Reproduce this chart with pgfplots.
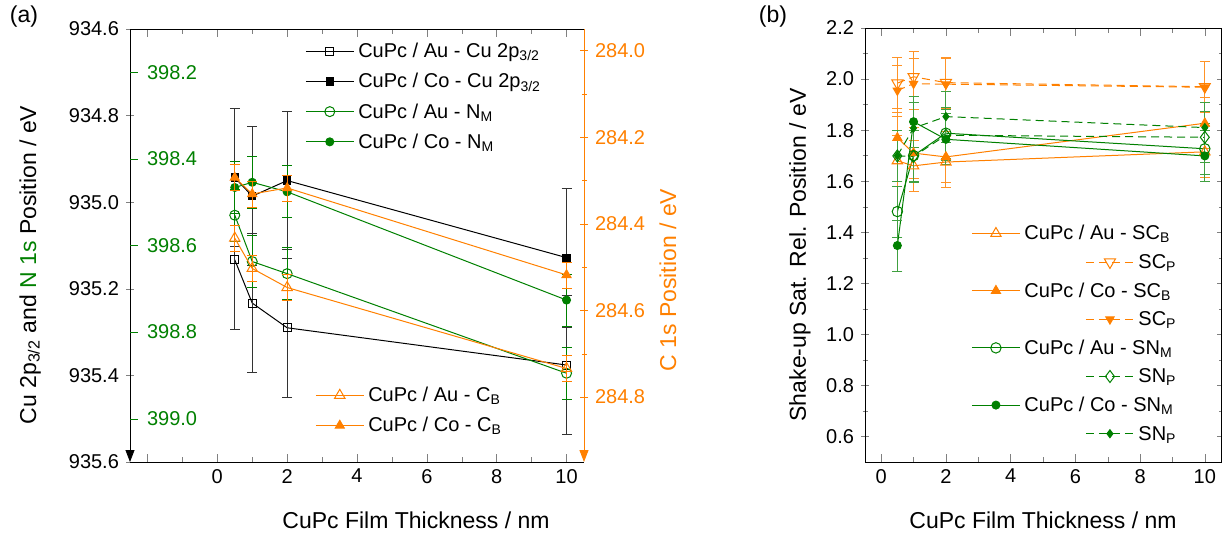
\documentclass[border=0pt]{standalone}
\usepackage{fontspec}
\setmainfont{Liberation Sans}
\usepackage{pgfplots}
\pgfplotsset{compat=1.18}
\usetikzlibrary{arrows.meta}
\definecolor{org}{RGB}{255,128,0}
\definecolor{grn}{RGB}{0,128,0}
\pgfplotsset{
  leg/.style={legend image code/.code={%
    \draw[mark repeat=2,mark phase=2,##1] plot coordinates {(0pt,0pt) (12pt,0pt) (24pt,0pt)};}},
  legsh/.style={legend image code/.code={%
    \draw[overlay,mark repeat=2,mark phase=2,##1] plot coordinates {(57pt,0pt) (69pt,0pt) (81pt,0pt)};}},
  baseL/.style={
    scale only axis, width=227pt, height=216.5pt, at={(65pt,-231pt)}, anchor=south west,
    xmin=-2.5, xmax=10.5, y dir=reverse, clip=false,
    tick label style={font=\fontsize{10}{12}\selectfont},
    label style={font=\fontsize{11.5}{13.8}\selectfont},
    /pgf/number format/assume math mode=true,
    major tick length=4pt, minor tick length=2.5pt,
    legend style={draw=none, fill=none, font=\fontsize{10}{12}\selectfont, row sep=1.6pt,
      cells={inner sep=1.5pt, text height=8pt, text depth=4.5pt}},
    legend cell align=left, leg,
  },
  dsh/.style={dash pattern=on 4pt off 2.5pt},
}
\begin{document}
\begin{tikzpicture}
% ---------- panel (a): Cu 2p (black) ----------
\begin{axis}[baseL,
  ymin=934.6, ymax=935.6,
  axis x line*=box, axis y line*=left,
  every outer y axis line/.append style={-{Triangle[length=6pt,width=4.5pt]}},
  xtick={-2,0,2,4,6,8,10}, xticklabels={,0,2,4,6,8,10}, minor x tick num=1,
  xtick align=inside, ytick align=center,
  ytick={934.6,934.8,935.0,935.2,935.4,935.6},
  yticklabel style={/pgf/number format/.cd, fixed, fixed zerofill, precision=1},
  xlabel={CuPc Film Thickness / nm},
  xlabel style={at={(axis description cs:0.63,-0.134)}, anchor=center},
  ylabel={Cu 2p\textsubscript{3/2} and \textcolor{grn}{N 1s} Position / eV},
  ylabel style={at={(axis description cs:-0.22,0.455)}, anchor=center},
]
\addplot[black, line width=0.5pt, mark=square, mark size=2pt, mark options={solid},
  error bars/.cd, y dir=both, y explicit, error bar style={black!80,line width=0.5pt},
  error mark options={rotate=90, mark size=2.5pt, black!80}]
  coordinates {(0.5,935.133) +- (0,0.16) (1,935.233) +- (0,0.16) (2,935.29) +- (0,0.16) (10,935.376) +- (0,0.16)};
\addplot[black, line width=0.5pt, mark=square*, mark size=1.8pt, mark options={solid},
  error bars/.cd, y dir=both, y explicit, error bar style={black!80,line width=0.5pt},
  error mark options={rotate=90, mark size=2.5pt, black!80}]
  coordinates {(0.5,934.943) +- (0,0.16) (1,934.986) +- (0,0.16) (2,934.95) +- (0,0.16) (10,935.128) +- (0,0.16)};
\end{axis}
% ---------- panel (a): N 1s (green) ----------
\begin{axis}[baseL,
  ymin=398.1, ymax=399.1,
  hide x axis, axis y line*=left, y axis line style={draw=none},
  ytick={398.2,398.4,398.6,398.8,399.0}, ytick align=inside,
  tick style={grn},
  yticklabel style={grn, anchor=west, xshift=5pt, /pgf/number format/.cd, fixed, fixed zerofill, precision=1},
  legend style={at={(0.372,0.99)}, anchor=north west},
]
\addlegendimage{black, line width=0.5pt, mark=square, mark size=2pt}
\addlegendentry{CuPc / Au - Cu 2p\textsubscript{3/2}}
\addlegendimage{black, line width=0.5pt, mark=square*, mark size=1.8pt}
\addlegendentry{CuPc / Co - Cu 2p\textsubscript{3/2}}
\addplot[grn, line width=0.5pt, mark=o, mark size=2.5pt, mark options={solid},
  error bars/.cd, y dir=both, y explicit, error bar style={grn,line width=0.5pt},
  error mark options={rotate=90, mark size=2.5pt, grn}]
  coordinates {(0.5,398.53) +- (0,0.06) (1,398.637) +- (0,0.06) (2,398.665) +- (0,0.06) (10,398.895) +- (0,0.06)};
\addlegendentry{CuPc / Au - N\textsubscript{M}}
\addplot[grn, line width=0.5pt, mark=*, mark size=2pt, mark options={solid},
  error bars/.cd, y dir=both, y explicit, error bar style={grn,line width=0.5pt},
  error mark options={rotate=90, mark size=2.5pt, grn}]
  coordinates {(0.5,398.466) +- (0,0.06) (1,398.454) +- (0,0.06) (2,398.476) +- (0,0.06) (10,398.726) +- (0,0.06)};
\addlegendentry{CuPc / Co - N\textsubscript{M}}
\end{axis}
% ---------- panel (a): C 1s (orange) ----------
\begin{axis}[baseL,
  ymin=283.95, ymax=284.95,
  hide x axis, axis y line*=right,
  y axis line style={org, line width=0.5pt},
  every outer y axis line/.append style={-{Triangle[length=6pt,width=4.5pt]}},
  ytick={284.0,284.2,284.4,284.6,284.8}, minor y tick num=1, ytick align=center,
  tick style={org},
  yticklabel style={org, /pgf/number format/.cd, fixed, fixed zerofill, precision=1},
  ylabel={C 1s Position / eV},
  ylabel style={org, at={(axis description cs:1.185,0.42)}, anchor=center},
  legend style={at={(0.394,0.043)}, anchor=south west},
]
\addplot[org, line width=0.5pt, mark=triangle, mark size=3pt, mark options={solid},
  error bars/.cd, y dir=both, y explicit, error bar style={org,line width=0.5pt},
  error mark options={rotate=90, mark size=2.5pt, org}]
  coordinates {(0.5,284.433) +- (0,0.03) (1,284.503) +- (0,0.03) (2,284.547) +- (0,0.03) (10,284.734) +- (0,0.03)};
\addlegendentry{CuPc / Au - C\textsubscript{B}}
\addplot[org, line width=0.5pt, mark=triangle*, mark size=2.6pt, mark options={solid},
  error bars/.cd, y dir=both, y explicit, error bar style={org,line width=0.5pt},
  error mark options={rotate=90, mark size=2.5pt, org}]
  coordinates {(0.5,284.293) +- (0,0.03) (1,284.331) +- (0,0.03) (2,284.317) +- (0,0.03) (10,284.518) +- (0,0.03)};
\addlegendentry{CuPc / Co - C\textsubscript{B}}
\end{axis}
% ---------- panel (b) ----------
\begin{axis}[
  scale only axis, width=178pt, height=217pt, at={(432.5pt,-231pt)}, anchor=south west,
  xmin=-0.5, xmax=10.5, ymin=0.5, ymax=2.2, clip=false,
  xtick={0,2,4,6,8,10}, minor x tick num=1,
  ytick={0.6,0.8,1.0,1.2,1.4,1.6,1.8,2.0,2.2}, minor y tick num=1,
  xtick align=inside, ytick align=center,
  major tick length=4pt, minor tick length=2.5pt,
  tick label style={font=\fontsize{10}{12}\selectfont},
  label style={font=\fontsize{11.5}{13.8}\selectfont},
  /pgf/number format/assume math mode=true,
  yticklabel style={/pgf/number format/.cd, fixed, fixed zerofill, precision=1},
  xlabel={CuPc Film Thickness / nm},
  xlabel style={at={(axis description cs:0.5,-0.134)}, anchor=center},
  ylabel={Shake-up Sat. Rel. Position / eV},
  ylabel style={at={(axis description cs:-0.183,0.477)}, anchor=center},
  legend style={draw=none, fill=none, font=\fontsize{10}{12}\selectfont, row sep=0.8pt,
      cells={inner sep=1.5pt, text height=8pt, text depth=3.5pt},
      at={(0.281,0.024)}, anchor=south west},
  legend cell align=left, leg,
]
\addplot[org, line width=0.5pt, mark=triangle, mark size=3pt, mark options={solid},
  error bars/.cd, y dir=both, y explicit, error bar style={org!85,line width=0.5pt},
  error mark options={rotate=90, mark size=2.5pt, org!85}]
  coordinates {(0.5,1.68) +- (0,0.1) (1,1.66) +- (0,0.1) (2,1.675) +- (0,0.1) (10,1.715) +- (0,0.1)};
\addlegendentry{CuPc / Au - SC\textsubscript{B}}
\addplot[org, line width=0.5pt, dsh, mark=triangle, mark size=3.2pt, mark options={solid, rotate=180}, legsh,
  error bars/.cd, y dir=both, y explicit, error bar style={org!85,line width=0.5pt,solid},
  error mark options={rotate=90, mark size=2.5pt, org!85, solid}]
  coordinates {(0.5,1.984) +- (0,0.1) (1,2.009) +- (0,0.1) (2,1.986) +- (0,0.1) (10,1.97) +- (0,0.1)};
\addlegendentry{\hspace*{57pt}SC\textsubscript{P}}
\addplot[org, line width=0.5pt, mark=triangle*, mark size=2.6pt, mark options={solid},
  error bars/.cd, y dir=both, y explicit, error bar style={org!85,line width=0.5pt},
  error mark options={rotate=90, mark size=2.5pt, org!85}]
  coordinates {(0.5,1.77) +- (0,0.1) (1,1.71) +- (0,0.1) (2,1.695) +- (0,0.1) (10,1.827) +- (0,0.1)};
\addlegendentry{CuPc / Co - SC\textsubscript{B}}
\addplot[org, line width=0.5pt, dsh, mark=triangle*, mark size=2.4pt, mark options={solid, rotate=180}, legsh,
  error bars/.cd, y dir=both, y explicit, error bar style={org!85,line width=0.5pt,solid},
  error mark options={rotate=90, mark size=2.5pt, org!85, solid}]
  coordinates {(0.5,1.955) +- (0,0.1) (1,1.982) +- (0,0.1) (2,1.98) +- (0,0.1) (10,1.968) +- (0,0.1)};
\addlegendentry{\hspace*{57pt}SC\textsubscript{P}}
\addplot[grn, line width=0.5pt, mark=o, mark size=2.6pt, mark options={solid},
  error bars/.cd, y dir=both, y explicit, error bar style={grn!75,line width=0.5pt},
  error mark options={rotate=90, mark size=2.5pt, grn!75}]
  coordinates {(0.5,1.481) +- (0,0.1) (1,1.70) +- (0,0.1) (2,1.788) +- (0,0.1) (10,1.727) +- (0,0.1)};
\addlegendentry{CuPc / Au - SN\textsubscript{M}}
\addplot[grn, line width=0.5pt, dsh, mark=diamond, mark size=3pt, mark options={solid}, legsh,
  error bars/.cd, y dir=both, y explicit, error bar style={grn!75,line width=0.5pt,solid},
  error mark options={rotate=90, mark size=2.5pt, grn!75, solid}]
  coordinates {(0.5,1.699) +- (0,0.1) (1,1.697) +- (0,0.1) (2,1.78) +- (0,0.1) (10,1.772) +- (0,0.1)};
\addlegendentry{\hspace*{57pt}SN\textsubscript{P}}
\addplot[grn, line width=0.5pt, mark=*, mark size=2pt, mark options={solid},
  error bars/.cd, y dir=both, y explicit, error bar style={grn!75,line width=0.5pt},
  error mark options={rotate=90, mark size=2.5pt, grn!75}]
  coordinates {(0.5,1.348) +- (0,0.1) (1,1.833) +- (0,0.1) (2,1.764) +- (0,0.1) (10,1.699) +- (0,0.1)};
\addlegendentry{CuPc / Co - SN\textsubscript{M}}
\addplot[grn, line width=0.5pt, dsh, mark=diamond*, mark size=2pt, mark options={solid}, legsh,
  error bars/.cd, y dir=both, y explicit, error bar style={grn!75,line width=0.5pt,solid},
  error mark options={rotate=90, mark size=2.5pt, grn!75, solid}]
  coordinates {(0.5,1.70) +- (0,0.1) (1,1.808) +- (0,0.1) (2,1.853) +- (0,0.1) (10,1.81) +- (0,0.1)};
\addlegendentry{\hspace*{57pt}SN\textsubscript{P}}
\end{axis}
\node[font=\fontsize{11.5}{13.8}\selectfont] at (12pt,-8.5pt) {(a)};
\node[font=\fontsize{11.5}{13.8}\selectfont] at (386.5pt,-8.5pt) {(b)};
\pgfresetboundingbox
\useasboundingbox (0,0) rectangle (611pt,-268.5pt);
\end{tikzpicture}
\end{document}
